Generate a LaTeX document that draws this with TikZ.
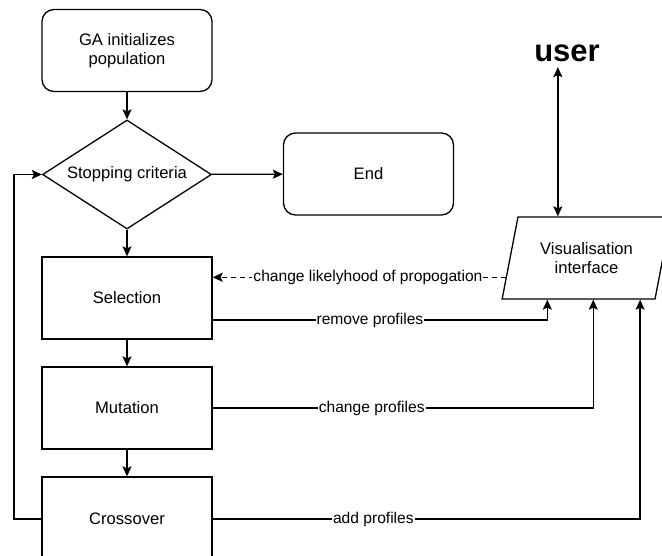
\documentclass[tikz,border=0pt]{standalone}
\usepackage{fontspec}
\setmainfont{Liberation Sans}
\usetikzlibrary{arrows.meta,shapes.geometric,calc}
\begin{document}
\begin{tikzpicture}[x=1pt,y=-1pt, line width=1.3pt,
  nfont/.style={font=\fontsize{16.6}{19}\selectfont},
  box/.style={draw, nfont, minimum width=170pt, minimum height=82pt, inner sep=0pt, align=center},
  rbox/.style={box, rounded corners=12pt},
  arr/.style={-{Stealth[length=10pt,width=9pt,inset=2pt]}},
  lbl/.style={fill=white, inner sep=1pt, font=\fontsize{15.6}{18}\selectfont}]
\useasboundingbox (0,0) rectangle (662,555);
\clip (0,0) rectangle (662,555);

\node[rbox] (ga) at (127,50.5) {GA initializes\\population};
\node[diamond, draw, nfont, aspect=1.55, minimum width=169pt, minimum height=109pt, inner sep=0pt] (dia) at (127,174.5) {Stopping criteria};
\node[rbox] (end) at (368.5,174) {End};
\node[box] (sel) at (127,298) {Selection};
\node[box] (mut) at (127,408) {Mutation};
\node[box, minimum height=84pt] (cro) at (127,519) {Crossover};
\node[trapezium, draw, nfont, align=center, trapezium left angle=71, trapezium right angle=109, trapezium stretches=true, minimum width=169pt, minimum height=82pt, inner sep=0pt] (vis) at (586.5,258) {Visualisation\\interface};
\node[font=\bfseries\fontsize{31}{36}\selectfont, inner xsep=0pt, inner ysep=5pt] (user) at (567,53) {user};

\draw[arr] (ga) -- (dia);
\draw[arr] (dia) -- (end);
\draw[arr] (dia) -- (sel);
\draw[arr] (sel) -- (mut);
\draw[arr] (mut) -- (cro);
\coordinate (lx) at (14,0);
\draw[arr] (cro.west) -- (cro.west -| lx) |- (dia.west);

\coordinate (ut) at ($(vis.top left corner)!0.262!(vis.top right corner)$);
\draw[{Stealth[length=10pt,width=9pt,inset=2pt]}-{Stealth[length=10pt,width=9pt,inset=2pt]}] (ut |- user.south) -- (ut);

\coordinate (dv) at ($(vis.bottom left corner)!0.268!(vis.top left corner)$);
\draw[arr, dash pattern=on 5pt off 4pt] (dv) -- node[lbl, pos=0.47] {change likelyhood of propogation} (dv -| sel.east);

\coordinate (r1) at ($(vis.bottom left corner)!0.298!(vis.bottom right corner)$);
\coordinate (r2) at ($(vis.bottom left corner)!0.596!(vis.bottom right corner)$);
\coordinate (r3) at ($(vis.bottom left corner)!0.90!(vis.bottom right corner)$);
\draw[arr] ([yshift=-22pt]sel.east) -| node[lbl, pos=0.235] {remove profiles} (r1);
\draw[arr] (mut.east) -| node[lbl, pos=0.209] {change profiles} (r2);
\draw[arr] (cro.east) -| node[lbl, pos=0.188] {add profiles} (r3);
\end{tikzpicture}
\end{document}
